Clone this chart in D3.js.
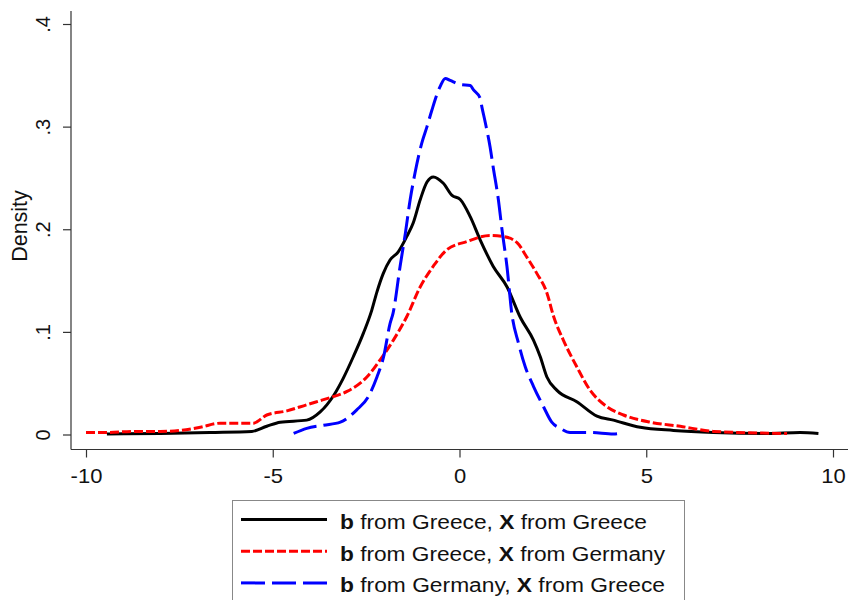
<!DOCTYPE html>
<html>
<head>
<meta charset="utf-8">
<script src="https://cdn.jsdelivr.net/npm/d3@7"></script>
<style>
  body { margin: 0; background: #fff; }
  svg { display: block; font-family: "Liberation Sans", Arial, sans-serif; }
</style>
</head>
<body>
<div id="chart"></div>
<script>
// density curves: [x, density]
var greeceGreece = [
  [-9.44, 0.0005], [-8.01, 0.001], [-6.68, 0.002], [-5.56, 0.003], [-5.16, 0.008],
  [-4.80, 0.012], [-4.09, 0.014], [-3.73, 0.022], [-3.37, 0.038], [-3.11, 0.055],
  [-2.84, 0.076], [-2.57, 0.099], [-2.35, 0.121], [-2.21, 0.139], [-2.04, 0.157],
  [-1.86, 0.170], [-1.64, 0.178], [-1.41, 0.193], [-1.24, 0.206], [-1.05, 0.229],
  [-0.87, 0.246], [-0.70, 0.251], [-0.44, 0.245], [-0.20, 0.233], [0.02, 0.229],
  [0.29, 0.212], [0.55, 0.190], [0.90, 0.164], [1.27, 0.144], [1.63, 0.114],
  [1.98, 0.092], [2.16, 0.076], [2.34, 0.056], [2.61, 0.043], [3.14, 0.032],
  [3.68, 0.018], [4.12, 0.014], [4.84, 0.007], [5.73, 0.004], [6.80, 0.002],
  [8.23, 0.001], [9.12, 0.002], [9.61, 0.001]
];
var greeceGermany = [
  [-10.0, 0.002], [-9.44, 0.002], [-8.73, 0.003], [-8.01, 0.003], [-7.48, 0.004],
  [-6.94, 0.007], [-6.41, 0.011], [-5.88, 0.011], [-5.52, 0.011], [-5.16, 0.019],
  [-4.62, 0.023], [-4.09, 0.029], [-3.73, 0.033], [-3.46, 0.036], [-3.01, 0.042],
  [-2.48, 0.056], [-2.12, 0.073], [-1.77, 0.092], [-1.41, 0.115], [-1.05, 0.144],
  [-0.70, 0.164], [-0.34, 0.180], [0.20, 0.188], [0.82, 0.194], [1.17, 0.193],
  [1.54, 0.187], [1.80, 0.173], [2.07, 0.157], [2.34, 0.138], [2.52, 0.115],
  [2.78, 0.092], [3.14, 0.066], [3.50, 0.043], [3.95, 0.027], [4.39, 0.019],
  [5.11, 0.012], [5.91, 0.008], [6.80, 0.003], [8.77, 0.001]
];
var germanyGreece = [
  [-4.44, 0.001], [-4.09, 0.006], [-3.64, 0.009], [-3.19, 0.012], [-2.75, 0.024],
  [-2.44, 0.037], [-2.21, 0.056], [-2.03, 0.076], [-1.86, 0.108], [-1.78, 0.118],
  [-1.59, 0.164], [-1.45, 0.196], [-1.32, 0.229], [-1.19, 0.255], [-1.01, 0.284],
  [-0.87, 0.300], [-0.74, 0.316], [-0.52, 0.339], [-0.38, 0.347], [-0.25, 0.345],
  [0.02, 0.341], [0.29, 0.340], [0.37, 0.336], [0.55, 0.328], [0.60, 0.319],
  [0.69, 0.304], [0.82, 0.280], [0.90, 0.261], [1.04, 0.229], [1.14, 0.199],
  [1.27, 0.164], [1.40, 0.118], [1.58, 0.089], [1.76, 0.066], [1.98, 0.047],
  [2.25, 0.027], [2.47, 0.012], [2.70, 0.006], [2.96, 0.002], [3.50, 0.002],
  [4.12, 0.0005], [4.39, 0.002]
];

var xTicks = [-10, -5, 0, 5, 10];
var yTicks = [0, 0.1, 0.2, 0.3, 0.4];
var yTickLabels = ["0", ".1", ".2", ".3", ".4"];

var seriesNames = [
  ["b", " from Greece, ", "X", " from Greece"],
  ["b", " from Greece, ", "X", " from Germany"],
  ["b", " from Germany, ", "X", " from Greece"]
];
var seriesColors = ["#000000", "#ff0000", "#0000ff"];
var seriesDash = [null, "9,3", "24,7"];
var seriesData = [greeceGreece, greeceGermany, germanyGreece];
var legendWidths = [307, 325, 325];

var width = 849, height = 600;
var axisX = 71, axisY = 449.5;

var svg = d3.select("#chart").append("svg")
  .attr("width", width)
  .attr("height", height);

var x = d3.scaleLinear().domain([-10, 10]).range([86, 833]);
var y = d3.scaleLinear().domain([0, 0.4]).range([434.5, 24]);

//x axis
var gx = svg.append("g")
  .attr("transform", "translate(0," + axisY + ")")
  .call(d3.axisBottom(x).tickValues(xTicks).tickSize(8).tickSizeOuter(0).tickPadding(11)
    .tickFormat(function(d){ return d; }));
gx.select(".domain").remove();
gx.selectAll("line").attr("stroke", "#333").attr("stroke-width", 1.2);
gx.selectAll("text")
  .attr("fill", "#111")
  .style("font-size", "20px")
  .attr("transform", "scale(1.1,1)");

//y axis
var gy = svg.append("g")
  .attr("transform", "translate(" + axisX + ",0)")
  .call(d3.axisLeft(y).tickValues(yTicks).tickSize(8).tickSizeOuter(0)
    .tickFormat(function(d, i){ return yTickLabels[i]; }));
gy.select(".domain").remove();
gy.selectAll("line").attr("stroke", "#333").attr("stroke-width", 1.2);
gy.selectAll("text")
  .attr("x", null).attr("dy", null)
  .attr("fill", "#111")
  .style("font-size", "20px")
  .style("text-anchor", "middle")
  .attr("transform", "translate(-21,0) rotate(-90)");

//axis lines
svg.append("line")
  .attr("x1", axisX).attr("x2", axisX)
  .attr("y1", 11).attr("y2", axisY)
  .attr("stroke", "#333").attr("stroke-width", 1.2);
svg.append("line")
  .attr("x1", axisX).attr("x2", 848)
  .attr("y1", axisY).attr("y2", axisY)
  .attr("stroke", "#333").attr("stroke-width", 1.2);

svg.append("text")
  .attr("transform", "translate(27,226) rotate(-90)")
  .style("text-anchor", "middle")
  .style("font-size", "21.5px")
  .attr("fill", "#111")
  .text("Density");

//curves
var line = d3.line()
  .x(function(d){ return x(d[0]); })
  .y(function(d){ return y(d[1]); })
  .curve(d3.curveMonotoneX);

svg.selectAll("path.curve")
  .data(seriesData)
  .enter().append("path")
  .attr("class", "curve")
  .attr("d", line)
  .attr("fill", "none")
  .attr("stroke", function(d, i){ return seriesColors[i]; })
  .attr("stroke-width", 3)
  .attr("stroke-dasharray", function(d, i){ return seriesDash[i]; });

//legend
var legend = svg.append("g");
legend.append("rect")
  .attr("x", 232.5).attr("y", 500.5)
  .attr("width", 452).attr("height", 110)
  .attr("fill", "#fff")
  .attr("stroke", "#888").attr("stroke-width", 1);

var rows = legend.selectAll("g.row")
  .data(seriesNames)
  .enter().append("g")
  .attr("class", "row")
  .attr("transform", function(d, i){ return "translate(0," + (519.5 + i * 31.7) + ")"; });

rows.append("line")
  .attr("x1", 241).attr("x2", 327)
  .attr("y1", 0).attr("y2", 0)
  .attr("stroke", function(d, i){ return seriesColors[i]; })
  .attr("stroke-width", 3)
  .attr("stroke-dasharray", function(d, i){ return seriesDash[i]; });

var labels = rows.append("text")
  .attr("x", 340).attr("y", 9.5)
  .style("font-size", "19.5px")
  .attr("fill", "#111")
  .attr("textLength", function(d, i){ return legendWidths[i]; })
  .attr("lengthAdjust", "spacingAndGlyphs");

labels.selectAll("tspan")
  .data(function(d){ return d; })
  .enter().append("tspan")
  .style("font-weight", function(d, i){ return i % 2 == 0 ? "bold" : "normal"; })
  .text(function(d){ return d; });
</script>
</body>
</html>
